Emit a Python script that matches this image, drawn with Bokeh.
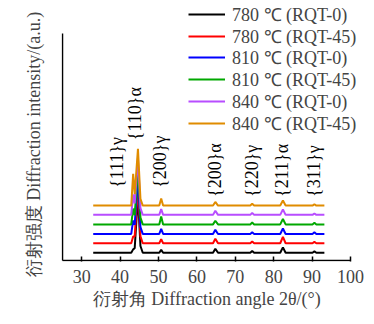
import math
from bokeh.plotting import figure
from bokeh.models import Legend, LegendItem, FixedTicker, ColumnDataSource, Range1d
from bokeh.core.properties import value
from bokeh.embed import file_html
from bokeh.resources import INLINE

# 2theta sample points (deg)
two_theta = [33.0, 42.9, 43.4, 43.8, 44.65, 45.3, 45.9, 50.2, 50.7, 51.2, 64.2, 64.8, 65.5,
             73.9, 74.4, 74.9, 81.7, 82.4, 83.1, 90.1, 90.6, 91.1, 93.2]

# intensities above each curve's own baseline (a.u.)
i_780_0 = [0, 0, 1.5, 2.0, 25, 3, 0, 0, 1.3, 0, 0, 1.8, 0, 0, 0.8, 0, 0, 2.4, 0, 0, 0.6, 0, 0]
i_780_45 = [0, 0, 3.0, 3.0, 25, 3, 0, 0, 1.8, 0, 0, 2.0, 0, 0, 0.8, 0, 0, 2.8, 0, 0, 0.6, 0, 0]
i_810_0 = [0, 0, 6.0, 4.0, 25, 3, 0, 0, 2.2, 0, 0, 1.8, 0, 0, 0.7, 0, 0, 2.4, 0, 0, 0.7, 0, 0]
i_810_45 = [0, 0, 7.0, 4.0, 25, 3, 0, 0, 3.5, 0, 0, 1.6, 0, 0, 0.8, 0, 0, 2.4, 0, 0, 0.7, 0, 0]
i_840_0 = [0, 0, 9.0, 5.0, 25, 3, 0, 0, 2.6, 0, 0, 1.8, 0, 0, 0.9, 0, 0, 2.4, 0, 0, 0.6, 0, 0]
i_840_45 = [0, 0, 14.0, 5.0, 25, 3, 0, 0, 3.1, 0, 0, 1.6, 0, 0, 0.8, 0, 0, 2.2, 0, 0, 0.6, 0, 0]

series_labels = ["780 ℃ (RQT-0)", "780 ℃ (RQT-45)", "810 ℃ (RQT-0)",
                 "810 ℃ (RQT-45)", "840 ℃ (RQT-0)", "840 ℃ (RQT-45)"]
series_offsets = [3.4, 7.6, 11.7, 15.9, 20.1, 24.2]
series_colors = ["#000000", "#ff0000", "#0000ff", "#00a800", "#b84dff", "#e08c00"]

peak_names = ["{111}γ", "{110}α", "{200}γ", "{200}α", "{220}γ", "{211}α", "{311}γ"]
peak_pos = [39.3, 44.0, 50.5, 64.8, 74.4, 82.2, 90.6]
peak_label_base = [32, 53, 32, 28, 28, 28, 28]

x_ticks = [30, 40, 50, 60, 70, 80, 90, 100]
x_title = "衍射角 Diffraction angle 2θ/(°)"
y_title = "衍射强度 Diffraction intensity/(a.u.)"

# axis extents (data units) drawn as the two spines
AXIS_X = (25, 100)
AXIS_Y = (0, 100)

FONT = "Liberation Serif"
PX_X = 3.84   # px per degree
PX_Y = 2.27   # px per intensity unit
FRAME_L, FRAME_B, W, H = 61, 261, 374, 324

x_start = AXIS_X[0] - 1 / PX_X
x_end = x_start + (W - FRAME_L) / PX_X
y_start = AXIS_Y[0] - 1 / PX_Y
y_end = y_start + FRAME_B / PX_Y

p = figure(width=W, height=H, x_range=Range1d(x_start, x_end), y_range=Range1d(y_start, y_end),
           output_backend="svg", toolbar_location=None,
           min_border_left=FRAME_L, min_border_right=0, min_border_top=0,
           min_border_bottom=H - FRAME_B)
p.outline_line_color = None
p.xgrid.visible = False
p.ygrid.visible = False
p.background_fill_color = "white"
p.border_fill_color = "white"

NB = "\u00a0"
xa = p.xaxis[0]
xa.ticker = FixedTicker(ticks=x_ticks)
xa.axis_line_color = None
xa.major_tick_in = 5
xa.major_tick_out = 0
xa.minor_tick_line_color = None
xa.major_tick_line_width = 1.5
xa.major_label_text_font = FONT
xa.major_label_text_font_size = "18px"
xa.major_label_standoff = 8
xa.axis_label = x_title + NB * 5
xa.axis_label_text_font = FONT
xa.axis_label_text_font_size = "18px"
xa.axis_label_text_font_style = "normal"
xa.axis_label_standoff = 3

ya = p.yaxis[0]
ya.ticker = FixedTicker(ticks=[])
ya.axis_line_color = None
ya.major_tick_in = 0
ya.major_tick_out = 0
ya.minor_tick_line_color = None
ya.major_label_standoff = 0
ya.axis_label = y_title + NB * 6
ya.axis_label_text_font = FONT
ya.axis_label_text_font_size = "18px"
ya.axis_label_text_font_style = "normal"
ya.axis_label_standoff = 18

# spines
p.segment(x0=[AXIS_X[0], AXIS_X[0]], y0=[AXIS_Y[0], AXIS_Y[0]],
          x1=[AXIS_X[1], AXIS_X[0]], y1=[AXIS_Y[0], AXIS_Y[1]],
          line_color="black", line_width=1.5)

all_series = [i_780_0, i_780_45, i_810_0, i_810_45, i_840_0, i_840_45]
for k, (vals, lab, off, col) in enumerate(zip(all_series, series_labels, series_offsets, series_colors)):
    src = ColumnDataSource(dict(x=two_theta, y=[v + off for v in vals]))
    r = p.line("x", "y", source=src, line_color=col, line_width=2)
    row_center = 14 + 21.7 * k  # px below top of picture
    lg = Legend(items=[LegendItem(label=lab, renderers=[r])],
                location=(188 - FRAME_L, FRAME_B - row_center - 15))
    lg.padding = 0
    lg.margin = 0
    lg.spacing = 0
    lg.glyph_width = 37
    lg.glyph_height = 30
    lg.label_height = 30
    lg.label_standoff = 7
    lg.label_text_font = FONT
    lg.label_text_font_size = "18px"
    lg.border_line_alpha = 0
    lg.background_fill_alpha = 0
    p.add_layout(lg, "center")

tsrc = ColumnDataSource(dict(x=peak_pos, y=peak_label_base, t=peak_names))
p.text("x", "y", text="t", source=tsrc, angle=math.pi / 2, text_align="left",
       text_baseline="middle", text_font=value(FONT), text_font_size="18px",
       text_color="black")

open("out.html", "w").write(file_html(p, INLINE))
